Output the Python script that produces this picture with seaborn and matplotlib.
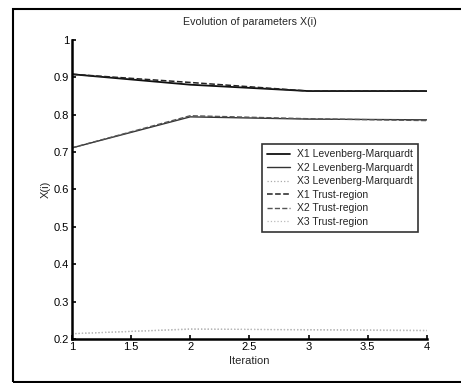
import pandas as pd
import matplotlib.pyplot as plt
import matplotlib.patches as patches
import seaborn as sns

# Iterations and parameter values
iterations = [1, 2, 3, 4]
x1_lm = [0.908, 0.880, 0.863, 0.863]
x2_lm = [0.711, 0.794, 0.788, 0.786]
x3_lm = [0.214, 0.226, 0.225, 0.223]
x1_tr = [0.908, 0.886, 0.863, 0.863]
x2_tr = [0.711, 0.797, 0.789, 0.784]
x3_tr = [0.214, 0.227, 0.224, 0.222]

labels = ['X1 Levenberg-Marquardt', 'X2 Levenberg-Marquardt', 'X3 Levenberg-Marquardt',
          'X1 Trust-region', 'X2 Trust-region', 'X3 Trust-region']
series = [x1_lm, x2_lm, x3_lm, x1_tr, x2_tr, x3_tr]

sns.set_style('white')
plt.rcParams['font.family'] = ['Liberation Sans', 'DejaVu Sans']

fig = plt.figure(figsize=(4.61, 3.83), dpi=100)
ax = fig.add_axes([0.156, 0.115, 0.77, 0.781])

colors = ['#111111', '#333333', '#aaaaaa', '#222222', '#555555', '#bbbbbb']
styles = ['-', '-', ':', '--', '--', ':']
widths = [1.3, 1.0, 0.9, 1.1, 1.0, 0.9]

for lab, vals, c, ls, lw in zip(labels, series, colors, styles, widths):
    df = pd.DataFrame({'Iteration': iterations, 'X(i)': vals})
    sns.lineplot(data=df, x='Iteration', y='X(i)', ax=ax, color=c, linestyle=ls,
                 linewidth=lw, label=lab)

ax.set_xlim(1, 4)
ax.set_ylim(0.2, 1.0)
ax.set_xticks([1, 1.5, 2, 2.5, 3, 3.5, 4])
ax.set_xticklabels(['1', '1.5', '2', '2.5', '3', '3.5', '4'])
ax.set_yticks([0.2, 0.3, 0.4, 0.5, 0.6, 0.7, 0.8, 0.9, 1.0])
ax.set_yticklabels(['0.2', '0.3', '0.4', '0.5', '0.6', '0.7', '0.8', '0.9', '1'])
ax.tick_params(direction='in', length=3, width=1.2, labelsize=8, pad=2, colors='black',
               left=True, bottom=True)
for side in ['top', 'right']:
    ax.spines[side].set_visible(False)
for side in ['left', 'bottom']:
    ax.spines[side].set_linewidth(1.8)
    ax.spines[side].set_color('black')

ax.set_xlabel('Iteration', fontsize=8, labelpad=3)
ax.set_ylabel('X(i)', fontsize=8, labelpad=2)
ax.set_title('Evolution of parameters X(i)', fontsize=7.7, pad=11)

leg = ax.legend(loc='upper left', bbox_to_anchor=(0.52, 0.67), fontsize=7.5,
                frameon=True, fancybox=False, edgecolor='black', handlelength=2.2,
                borderpad=0.55, labelspacing=0.33, handletextpad=0.6)
leg.get_frame().set_linewidth(1.2)

# outer frame around the figure
fig.patches.append(patches.Rectangle((13 / 461, 1.5 / 383), 1.0, 373 / 383,
                                     transform=fig.transFigure, fill=False,
                                     edgecolor='black', linewidth=1.5))

fig.savefig('out.png', dpi=100)
